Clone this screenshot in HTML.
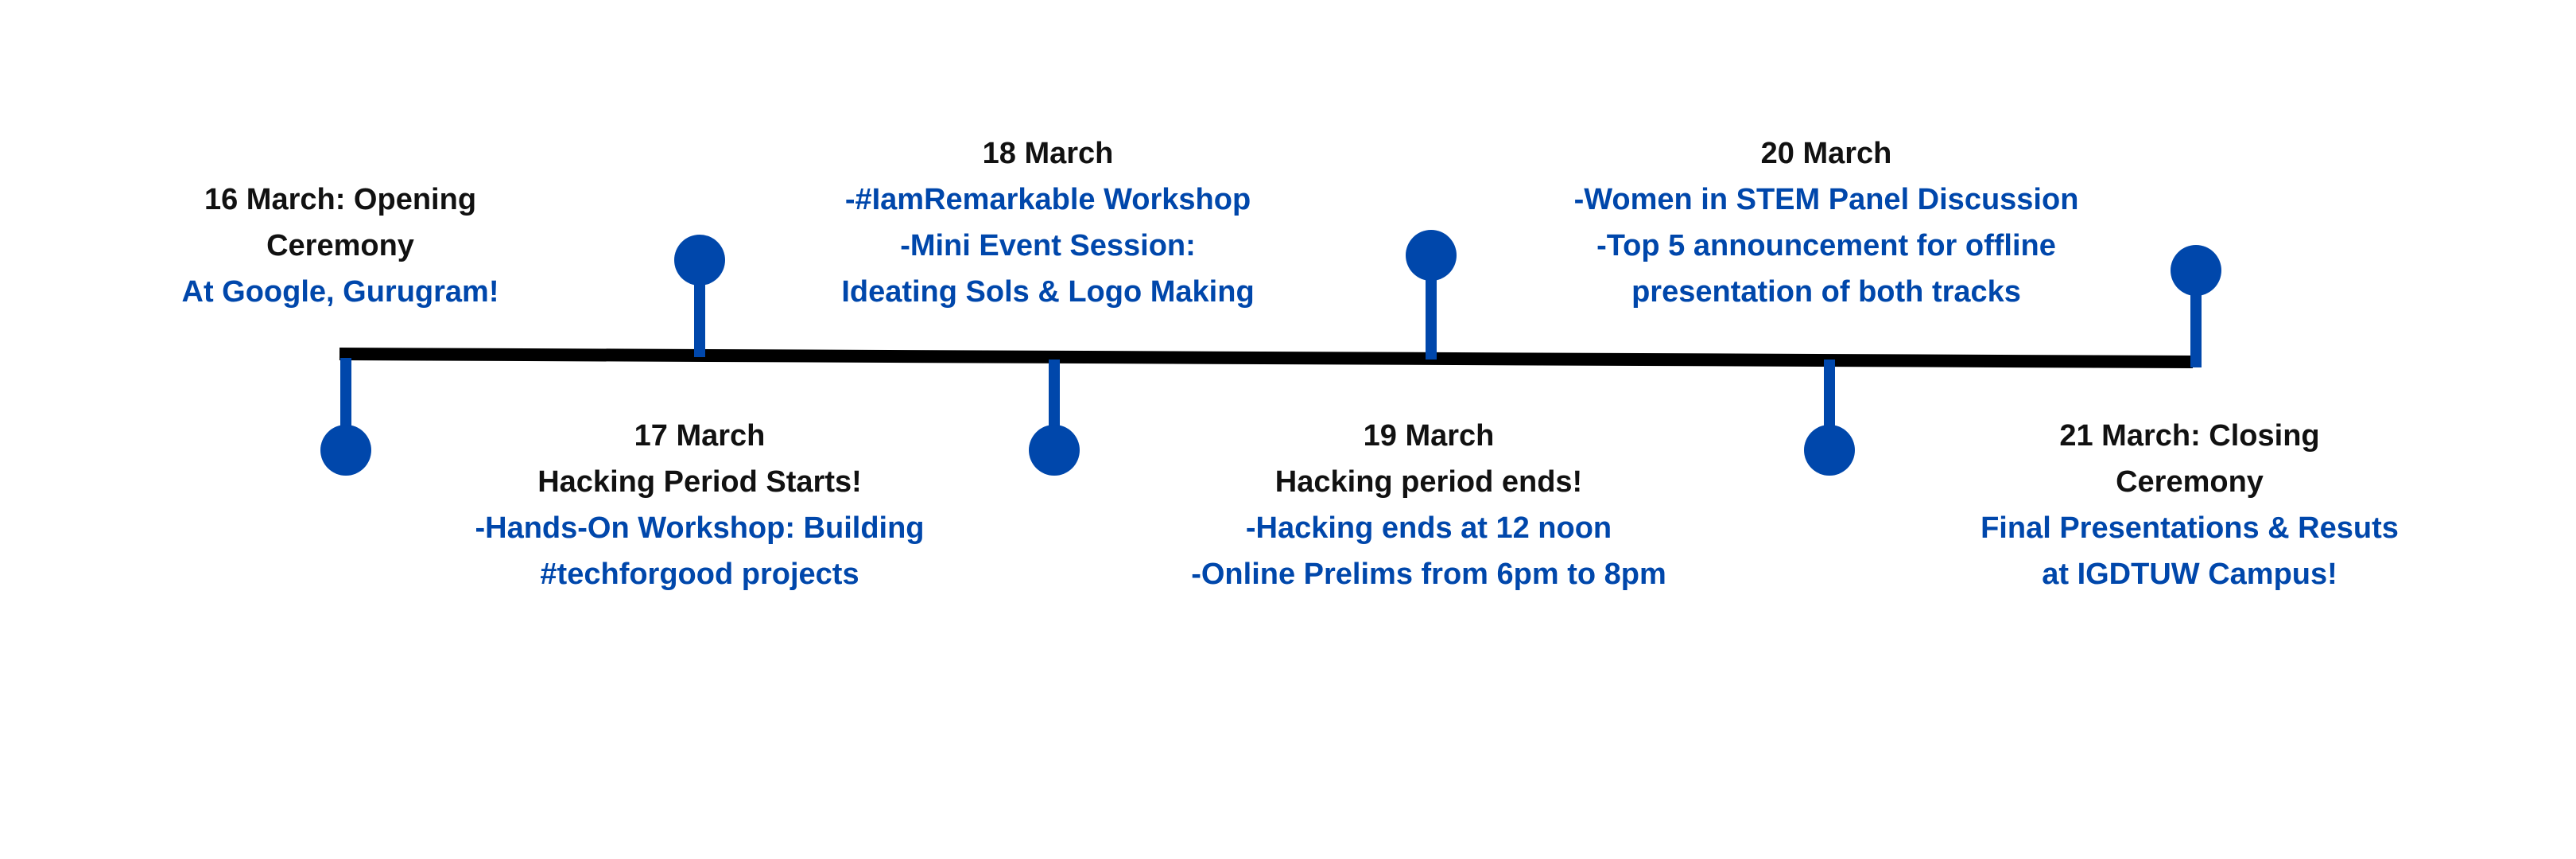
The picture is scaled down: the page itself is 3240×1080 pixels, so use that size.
<!DOCTYPE html>
<html><head><meta charset="utf-8"><style>
html,body{margin:0;padding:0;background:#fff;}
body{width:3240px;height:1080px;position:relative;overflow:hidden;font-family:"Liberation Sans",sans-serif;font-weight:bold;}
.t{position:absolute;width:900px;text-align:center;font-size:38px;line-height:58px;white-space:nowrap;}
.k{color:#111;}
.b{color:#0047ab;}
.s{position:absolute;background:#0047ab;width:14px;}
.c{position:absolute;background:#0047ab;width:64px;height:64px;border-radius:50%;}
</style></head><body>
<svg width="3240" height="1080" style="position:absolute;left:0;top:0">
<line x1="427" y1="445" x2="2758" y2="455" stroke="#000" stroke-width="16"/>
</svg>
<div class="s" style="left:428px;top:450px;height:116px"></div><div class="c" style="left:403px;top:534px"></div>
<div class="s" style="left:873px;top:327px;height:122px"></div><div class="c" style="left:848px;top:295px"></div>
<div class="s" style="left:1319px;top:452px;height:114px"></div><div class="c" style="left:1294px;top:534px"></div>
<div class="s" style="left:1793px;top:321px;height:131px"></div><div class="c" style="left:1768px;top:289px"></div>
<div class="s" style="left:2294px;top:452px;height:114px"></div><div class="c" style="left:2269px;top:534px"></div>
<div class="s" style="left:2755px;top:340px;height:122px"></div><div class="c" style="left:2730px;top:308px"></div>

<div class="t" style="left:-22px;top:222px"><div class="k">16 March: Opening</div><div class="k">Ceremony</div><div class="b">At Google, Gurugram!</div></div>
<div class="t" style="left:868px;top:164px"><div class="k">18 March</div><div class="b">-#IamRemarkable Workshop</div><div class="b">-Mini Event Session:</div><div class="b">Ideating Sols &amp; Logo Making</div></div>
<div class="t" style="left:1847px;top:164px"><div class="k">20 March</div><div class="b">-Women in STEM Panel Discussion</div><div class="b">-Top 5 announcement for offline</div><div class="b">presentation of both tracks</div></div>
<div class="t" style="left:430px;top:519px"><div class="k">17 March</div><div class="k">Hacking Period Starts!</div><div class="b">-Hands-On Workshop: Building</div><div class="b">#techforgood projects</div></div>
<div class="t" style="left:1347px;top:519px"><div class="k">19 March</div><div class="k">Hacking period ends!</div><div class="b">-Hacking ends at 12 noon</div><div class="b">-Online Prelims from 6pm to 8pm</div></div>
<div class="t" style="left:2304px;top:519px"><div class="k">21 March: Closing</div><div class="k">Ceremony</div><div class="b">Final Presentations &amp; Resuts</div><div class="b">at IGDTUW Campus!</div></div>
</body></html>
